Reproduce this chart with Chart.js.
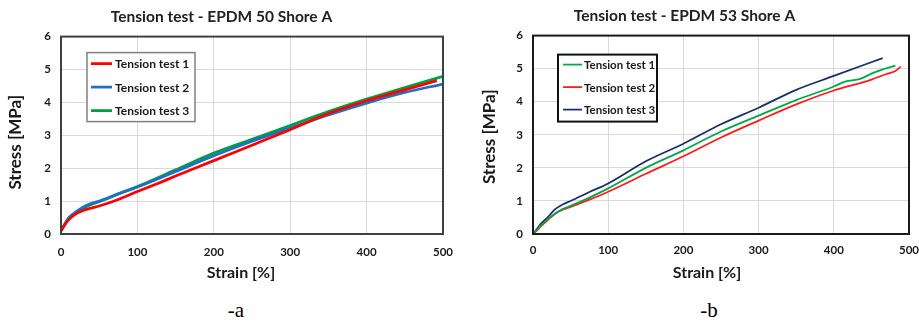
<!DOCTYPE html>
<html>
<head>
<meta charset="utf-8">
<script src="https://cdn.jsdelivr.net/npm/chart.js@4.4.0/dist/chart.umd.min.js"></script>
<style>
  body { margin: 0; background: #fff; width: 919px; height: 323px; position: relative; overflow: hidden; }
  canvas { position: absolute; top: 0; }
  #chartA { left: 0; }
  #chartB { left: 460px; }
  .cap { position: absolute; font-family: 'Liberation Serif', serif; font-size: 21px; color: #000; transform: translate(-50%, -50%); }
</style>
</head>
<body>
<canvas id="chartA" width="460" height="290"></canvas>
<canvas id="chartB" width="459" height="290"></canvas>
<div class="cap" style="left:236px; top:310px">-a</div>
<div class="cap" style="left:709px; top:310px">-b</div>
<script>
// EPDM 50 Shore A  (strain %, stress MPa)
const strainA1 = [0, 5, 10, 20, 30, 40, 50, 75, 100, 125, 150, 200, 250, 300, 350, 400, 450, 492];
const stressA1 = [0.1, 0.28, 0.43, 0.62, 0.72, 0.79, 0.85, 1.05, 1.29, 1.52, 1.76, 2.23, 2.7, 3.17, 3.66, 4.05, 4.38, 4.66];
const strainA2 = [0, 5, 10, 20, 30, 40, 50, 75, 100, 150, 200, 250, 300, 350, 400, 450, 500];
const stressA2 = [0.1, 0.3, 0.48, 0.68, 0.83, 0.93, 1.0, 1.22, 1.43, 1.9, 2.38, 2.82, 3.22, 3.62, 3.98, 4.3, 4.56];
const strainA3 = [0, 5, 10, 20, 30, 40, 50, 75, 100, 150, 200, 250, 300, 350, 400, 450, 500];
const stressA3 = [0.1, 0.3, 0.48, 0.66, 0.8, 0.9, 0.98, 1.22, 1.44, 1.95, 2.46, 2.88, 3.3, 3.72, 4.1, 4.45, 4.79];

// EPDM 53 Shore A
const strainB1 = [0, 5, 10, 20, 30, 40, 50, 75, 100, 150, 200, 250, 300, 350, 400, 415, 435, 450, 465, 482];
const stressB1 = [0, 0.12, 0.25, 0.45, 0.63, 0.76, 0.85, 1.1, 1.38, 2.0, 2.53, 3.1, 3.58, 4.05, 4.46, 4.61, 4.69, 4.85, 4.98, 5.09];
const strainB2 = [0, 5, 10, 20, 30, 40, 50, 75, 100, 150, 200, 250, 300, 350, 400, 450, 470, 482, 489];
const stressB2 = [0, 0.1, 0.22, 0.43, 0.62, 0.74, 0.82, 1.04, 1.28, 1.82, 2.35, 2.92, 3.43, 3.92, 4.34, 4.67, 4.84, 4.93, 5.06];
const strainB3 = [0, 5, 10, 20, 30, 40, 50, 75, 100, 150, 200, 250, 300, 350, 400, 465];
const stressB3 = [0, 0.14, 0.3, 0.52, 0.76, 0.9, 1.0, 1.27, 1.53, 2.2, 2.73, 3.32, 3.82, 4.36, 4.78, 5.32];

const seriesLabels = ['Tension test 1', 'Tension test 2', 'Tension test 3'];
const xTitle = 'Strain [%]';
const yTitle = 'Stress [MPa]';
const strainMax = 500, strainStep = 100;
const stressMax = 6, stressStep = 1;

Chart.defaults.font.family = 'Lato';
Chart.defaults.color = '#1a1a1a';

// legend drawn as a box inside the plot area
const boxLegend = {
  id: 'boxLegend',
  afterDraw(chart, args, o) {
    const ctx = chart.ctx, a = chart.chartArea;
    const x = a.left + o.x, y = a.top + o.y;
    ctx.save();
    ctx.fillStyle = '#fff';
    ctx.fillRect(x, y, o.w, o.h);
    ctx.strokeStyle = o.borderColor;
    ctx.lineWidth = o.borderWidth;
    ctx.strokeRect(x, y, o.w, o.h);
    ctx.font = o.font;
    ctx.textBaseline = 'middle';
    chart.data.datasets.forEach((ds, i) => {
      const ry = y + o.first + i * o.step;
      ctx.strokeStyle = ds.borderColor;
      ctx.lineWidth = ds.borderWidth;
      ctx.beginPath();
      ctx.moveTo(x + o.lineStart, ry);
      ctx.lineTo(x + o.lineEnd, ry);
      ctx.stroke();
      ctx.fillStyle = '#1a1a1a';
      ctx.fillText(ds.label, x + o.textX, ry + 1);
    });
    ctx.restore();
  }
};

// dark frame round the plot area
const plotFrame = {
  id: 'plotFrame',
  afterDatasetsDraw(chart, args, o) {
    const a = chart.chartArea, ctx = chart.ctx;
    ctx.save();
    ctx.strokeStyle = o.color;
    ctx.lineWidth = o.width;
    ctx.strokeRect(a.left, a.top, a.right - a.left, a.bottom - a.top);
    ctx.restore();
  }
};

// axis titles, centred the Excel way (on plot area plus tick labels)
const axisTitles = {
  id: 'axisTitles',
  afterDraw(chart, args, o) {
    const ctx = chart.ctx, a = chart.chartArea;
    ctx.save();
    ctx.fillStyle = '#1a1a1a';
    ctx.textAlign = 'center';
    ctx.textBaseline = 'middle';
    ctx.font = o.xFont;
    ctx.fillText(xTitle, (a.left + a.right) / 2 + o.xShift, o.xY);
    ctx.font = o.yFont;
    ctx.translate(o.yX, (a.top + a.bottom) / 2 + o.yShift);
    ctx.rotate(-Math.PI / 2);
    ctx.fillText(yTitle, 0, 0);
    ctx.restore();
  }
};

function makeChart(id, c) {
  return new Chart(document.getElementById(id), {
    type: 'scatter',
    data: {
      datasets: c.series.map((s, i) => ({
        label: seriesLabels[i],
        data: s.x.map((v, j) => ({ x: v, y: s.y[j] })),
        borderColor: s.color,
        borderWidth: c.lineWidth,
        showLine: true,
        pointRadius: 0,
        cubicInterpolationMode: 'monotone',
        fill: false
      }))
    },
    options: {
      responsive: false,
      animation: false,
      layout: { padding: { left: 0, right: c.padRight, top: 0, bottom: 0 } },
      plugins: {
        legend: { display: false },
        tooltip: { enabled: false },
        title: {
          display: true,
          text: c.title,
          color: '#222',
          font: { size: 15.5, weight: 'bold' },
          padding: { top: c.titleTop, bottom: c.titleBottom }
        },
        boxLegend: c.legend,
        plotFrame: { color: c.frameColor, width: 2 },
        axisTitles: c.axis
      },
      scales: {
        x: {
          type: 'linear',
          min: 0, max: strainMax,
          afterFit: s => { s.height = 56; s.paddingLeft = 0; s.paddingRight = 0; },
          ticks: { stepSize: strainStep, padding: c.xTickPad, font: { size: 11.5, weight: 'bold' } },
          grid: { color: '#d9d9d9', drawTicks: false },
          border: { display: false }
        },
        y: {
          type: 'linear',
          min: 0, max: stressMax,
          afterFit: s => { s.width = c.yWidth; s.paddingTop = 0; s.paddingBottom = 0; },
          ticks: { stepSize: stressStep, padding: 10, font: { size: 11.5, weight: 'bold' } },
          grid: { color: '#d9d9d9', drawTicks: false },
          border: { display: false }
        }
      }
    },
    plugins: [boxLegend, plotFrame, axisTitles]
  });
}

makeChart('chartA', {
  title: 'Tension test - EPDM 50 Shore A',
  series: [
    { x: strainA1, y: stressA1, color: '#ff0000' },
    { x: strainA2, y: stressA2, color: '#1f6fc8' },
    { x: strainA3, y: stressA3, color: '#00a040' }
  ],
  lineWidth: 2.75,
  padRight: 17,
  titleTop: 8, titleBottom: 10,
  yWidth: 61,
  xTickPad: 11,
  frameColor: '#404040',
  axis: { xFont: 'bold 16px Lato', yFont: 'bold 17px Lato', xShift: -11, xY: 273, yX: 16, yShift: 7 },
  legend: { x: 26, y: 16, w: 108, h: 69, first: 11, step: 23.5, lineStart: 4, lineEnd: 25, textX: 28,
            font: 'bold 12px Lato', borderColor: '#808080', borderWidth: 1.5 }
});

makeChart('chartB', {
  title: 'Tension test - EPDM 53 Shore A',
  series: [
    { x: strainB1, y: stressB1, color: '#00a848' },
    { x: strainB2, y: stressB2, color: '#ff1a1a' },
    { x: strainB3, y: stressB3, color: '#1b2d6b' }
  ],
  lineWidth: 1.75,
  padRight: 10,
  titleTop: 7, titleBottom: 10,
  yWidth: 73,
  xTickPad: 9,
  frameColor: '#1a1a1a',
  axis: { xFont: 'bold 16px Lato', yFont: 'bold 17px Lato', xShift: -14, xY: 273, yX: 30, yShift: 2 },
  legend: { x: 25, y: 19, w: 99, h: 67, first: 10, step: 22.5, lineStart: 5, lineEnd: 24, textX: 26,
            font: 'bold 11.5px Lato', borderColor: '#111', borderWidth: 2 }
});
</script>
</body>
</html>
